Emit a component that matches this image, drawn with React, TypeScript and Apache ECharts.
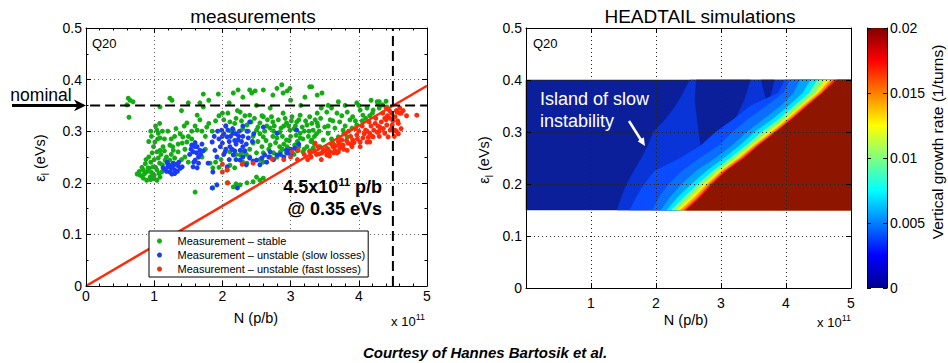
import React, { useEffect, useRef } from 'react';
import * as echarts from 'echarts';

const FONT = '"Liberation Sans", Arial, Helvetica, sans-serif';

// ---------- measurements (N in 1e11 p/b, emittance in eVs) ----------
const stableData: number[][] = [
  [0.62, 0.364], [0.645, 0.36], [0.69, 0.357], [0.6, 0.351], [0.63, 0.327],
  [1.23, 0.364], [1.085, 0.347], [1.72, 0.372], [1.5, 0.355], [1.67, 0.355], [1.72, 0.347], [1.94, 0.372], [1.63, 0.331],
  [1.04, 0.302], [1.06, 0.296], [1.085, 0.287], [1.01, 0.279], [0.92, 0.28],
  [1.48, 0.316], [1.67, 0.322], [1.77, 0.308], [1.63, 0.302],
  [1.42, 0.289], [1.41, 0.277], [1.48, 0.279],
  [1.13, 0.27], [1.23, 0.273], [1.085, 0.263], [1.28, 0.263],
  [1.04, 0.26], [0.97, 0.258], [1.06, 0.248], [1.16, 0.244],
  [0.91, 0.229], [0.98, 0.231], [1.04, 0.225], [0.98, 0.215], [1.085, 0.211], [0.94, 0.211], [0.84, 0.225], [0.79, 0.215],
  [0.75, 0.217], [0.84, 0.209], [0.89, 0.205], [1.04, 0.205], [1.11, 0.221], [1.0, 0.208], [0.82, 0.213], [0.95, 0.206],
  [1.6, 0.182], [1.82, 0.238], [1.86, 0.229], [1.23, 0.244],
  [1.15, 0.285], [1.2, 0.3], [1.3, 0.29], [1.35, 0.275], [1.25, 0.255], [1.35, 0.26], [1.45, 0.265], [1.5, 0.29],
  [1.55, 0.3], [1.12, 0.235], [1.18, 0.25], [0.95, 0.24], [0.88, 0.245],
  [2.87, 0.39], [2.8, 0.383], [2.99, 0.383], [2.6, 0.38], [2.16, 0.374], [2.43, 0.374], [2.74, 0.37], [2.89, 0.374],
  [3.28, 0.386], [3.39, 0.37], [3.21, 0.366], [2.3, 0.366], [1.26, 0.36], [2.23, 0.38], [2.48, 0.378], [3.31, 0.386],
  [2.0, 0.335], [2.26, 0.337], [2.4, 0.331], [2.6, 0.328], [2.89, 0.335], [3.02, 0.328], [3.14, 0.331], [3.28, 0.328], [3.39, 0.335],
  [2.11, 0.318], [2.36, 0.312], [2.55, 0.316], [2.74, 0.318], [2.94, 0.316], [3.09, 0.318], [3.24, 0.312], [3.39, 0.316],
  [2.16, 0.302], [2.5, 0.302], [2.7, 0.306], [2.84, 0.298], [2.99, 0.302], [3.14, 0.296], [3.33, 0.302],
  [2.6, 0.289], [2.8, 0.287], [2.94, 0.283], [3.14, 0.287], [3.31, 0.283],
  [2.45, 0.277], [2.7, 0.273], [2.84, 0.27], [3.06, 0.273], [3.24, 0.27],
  [2.11, 0.26], [2.26, 0.254], [2.5, 0.258], [2.8, 0.25], [2.94, 0.258], [3.18, 0.26], [3.33, 0.267],
  [2.11, 0.234], [2.36, 0.238], [2.6, 0.24], [2.07, 0.225], [2.18, 0.229],
  [2.16, 0.192], [2.26, 0.196], [2.36, 0.2], [2.45, 0.202], [2.55, 0.205], [2.5, 0.211], [2.07, 0.2], [1.86, 0.19],
  [2.2, 0.198], [2.6, 0.209],
  [1.9, 0.32], [2.05, 0.31], [2.2, 0.325], [2.3, 0.305], [2.45, 0.29], [2.55, 0.295], [2.65, 0.31], [2.75, 0.3],
  [2.9, 0.31], [3.0, 0.29], [3.05, 0.305], [3.2, 0.3], [3.35, 0.29], [3.4, 0.31], [2.95, 0.27], [3.1, 0.28],
  [3.2, 0.265], [3.35, 0.275], [2.85, 0.26], [3.05, 0.255], [3.1, 0.262], [3.28, 0.262], [2.7, 0.25], [2.55, 0.245],
  [2.4, 0.25], [2.3, 0.24],
  [3.46, 0.374], [3.7, 0.357], [3.97, 0.355], [4.12, 0.345], [4.28, 0.355], [4.35, 0.351], [4.41, 0.347],
  [3.53, 0.337], [3.68, 0.335], [3.83, 0.337], [4.02, 0.341], [4.21, 0.341], [3.91, 0.328], [4.06, 0.331],
  [3.58, 0.322], [3.72, 0.318], [3.87, 0.322], [3.97, 0.312], [3.5, 0.308], [3.65, 0.306], [3.77, 0.302], [3.9, 0.306],
  [3.55, 0.296], [3.7, 0.289], [3.83, 0.289], [3.48, 0.283], [3.62, 0.277], [3.53, 0.267], [3.43, 0.27], [3.6, 0.285],
  [4.05, 0.32], [4.16, 0.33], [4.3, 0.357], [4.27, 0.357],
  [1.95, 0.33], [2.02, 0.322], [2.08, 0.335], [2.12, 0.3], [2.18, 0.315], [2.22, 0.34], [2.28, 0.32], [2.33, 0.33],
  [2.38, 0.3], [2.42, 0.318], [2.47, 0.325], [2.52, 0.308], [2.58, 0.33], [2.62, 0.3], [2.66, 0.322], [2.72, 0.328],
  [2.76, 0.31], [2.82, 0.322], [2.86, 0.306], [2.92, 0.325], [2.97, 0.31], [3.01, 0.32], [3.07, 0.31], [3.12, 0.322],
  [3.17, 0.308], [3.22, 0.32], [3.27, 0.3], [3.31, 0.315], [3.36, 0.322], [3.42, 0.3], [3.44, 0.325], [2.64, 0.282],
  [2.74, 0.29], [2.88, 0.29], [2.98, 0.282], [3.08, 0.292], [3.18, 0.285], [3.26, 0.29], [3.38, 0.295], [2.52, 0.28],
  [2.58, 0.27], [2.78, 0.278], [2.9, 0.275], [3.0, 0.262], [3.12, 0.27], [3.3, 0.28], [2.68, 0.265], [2.6, 0.258],
  [2.75, 0.258], [2.88, 0.265], [2.4, 0.265], [2.35, 0.255], [2.3, 0.26], [2.2, 0.255],
  [0.78, 0.222], [0.82, 0.23], [0.86, 0.218], [0.9, 0.222], [0.93, 0.228], [0.96, 0.22], [1.0, 0.215], [1.02, 0.23],
  [1.07, 0.218], [0.87, 0.237], [0.92, 0.25], [1.0, 0.245], [1.08, 0.238], [1.1, 0.255], [1.15, 0.262], [0.99, 0.27],
  [1.05, 0.285], [0.96, 0.29], [1.12, 0.3], [1.02, 0.31], [0.95, 0.3], [1.08, 0.315], [1.25, 0.285], [1.32, 0.305],
  [1.38, 0.295], [1.44, 0.31], [1.55, 0.285], [1.6, 0.31], [1.7, 0.3], [1.75, 0.29], [1.8, 0.315], [1.85, 0.3],
  [1.45, 0.25], [1.4, 0.245], [1.5, 0.24], [1.3, 0.248], [1.27, 0.27], [1.7, 0.25], [1.75, 0.265], [1.9, 0.24],
  [1.95, 0.23], [1.98, 0.245],
  [1.4, 0.34], [1.8, 0.36], [2.1, 0.355], [2.5, 0.35], [2.7, 0.345], [3.0, 0.36], [3.15, 0.35], [3.55, 0.35],
  [3.6, 0.345], [3.8, 0.35], [4.0, 0.35], [4.18, 0.36], [2.4, 0.38], [2.95, 0.378], [4.4, 0.358], [4.2, 0.335],
  [4.1, 0.325], [3.95, 0.32], [3.8, 0.31], [4.3, 0.345], [3.75, 0.33], [3.62, 0.32], [3.45, 0.345], [3.55, 0.31],
  [3.78, 0.295],
];

const slowData: number[][] = [
  [1.13, 0.229], [1.2, 0.231], [1.28, 0.238], [1.3, 0.225], [1.35, 0.233], [1.23, 0.221], [1.41, 0.231], [1.19, 0.24], [1.26, 0.217],
  [1.16, 0.226], [1.22, 0.234], [1.32, 0.236], [1.38, 0.228], [1.25, 0.228], [1.3, 0.218],
  [1.55, 0.273], [1.63, 0.27], [1.57, 0.26], [1.67, 0.263], [1.6, 0.244], [1.57, 0.231], [1.63, 0.229],
  [1.52, 0.255], [1.65, 0.25], [1.7, 0.275],
  [1.85, 0.279], [1.89, 0.263], [1.92, 0.25], [1.79, 0.238], [1.86, 0.221], [1.85, 0.19], [1.92, 0.196],
  [1.99, 0.302], [2.07, 0.289], [2.16, 0.296], [2.0, 0.277], [2.11, 0.27], [2.23, 0.283], [2.26, 0.263], [2.04, 0.26],
  [2.16, 0.254], [2.38, 0.287], [2.4, 0.318], [2.6, 0.308],
  [2.0, 0.29], [2.1, 0.28], [2.2, 0.275], [2.3, 0.27], [2.15, 0.305], [2.25, 0.3], [2.05, 0.265], [1.95, 0.285], [2.3, 0.29], [2.35, 0.275],
  [2.4, 0.248], [2.5, 0.244], [2.62, 0.254], [2.7, 0.26], [2.8, 0.254], [2.94, 0.263], [3.06, 0.267], [2.07, 0.231],
  [2.26, 0.244], [3.09, 0.302], [2.8, 0.296], [2.22, 0.19],
  [2.55, 0.235], [2.65, 0.24], [2.9, 0.25], [3.0, 0.255], [2.35, 0.235],
  [1.97, 0.27], [2.02, 0.295], [2.08, 0.302], [2.12, 0.29], [2.18, 0.282], [2.2, 0.295], [2.24, 0.29], [2.28, 0.28],
  [2.14, 0.265], [2.02, 0.255], [2.1, 0.245], [2.18, 0.262], [2.33, 0.262], [2.36, 0.3], [2.44, 0.28], [2.46, 0.295],
  [1.93, 0.3], [1.88, 0.29], [2.05, 0.31], [2.3, 0.31],
  [1.54, 0.265], [1.6, 0.27], [1.62, 0.258], [1.68, 0.255], [1.58, 0.24], [1.65, 0.238], [1.6, 0.278], [1.72, 0.262],
  [2.45, 0.242], [2.58, 0.248], [2.68, 0.25], [2.75, 0.245], [2.85, 0.255], [2.95, 0.258], [3.0, 0.265], [3.12, 0.275],
  [2.3, 0.25], [2.2, 0.245],
  [1.18, 0.222], [1.27, 0.232], [1.34, 0.222], [1.2, 0.236], [1.36, 0.24],
];

const fastData: number[][] = [
  [2.0, 0.236], [2.07, 0.225], [2.29, 0.236], [2.45, 0.238], [2.73, 0.246], [2.08, 0.2], [2.0, 0.221],
  [3.02, 0.26], [3.11, 0.263], [3.36, 0.277], [3.28, 0.26],
  [4.85, 0.331], [4.56, 0.337], [4.6, 0.335], [4.53, 0.328], [4.46, 0.325], [4.41, 0.312], [4.49, 0.312], [4.53, 0.302],
  [4.46, 0.302], [4.31, 0.308], [4.27, 0.298], [4.16, 0.296], [4.38, 0.296], [4.43, 0.289], [4.21, 0.289], [4.06, 0.287],
  [3.97, 0.293], [3.91, 0.283], [4.02, 0.279], [4.12, 0.279], [3.84, 0.277], [3.77, 0.273], [3.9, 0.27], [3.72, 0.267],
  [3.65, 0.263], [3.83, 0.263], [3.58, 0.26], [3.68, 0.258], [3.53, 0.254], [3.46, 0.258], [3.48, 0.263], [3.62, 0.27],
  [4.02, 0.27], [3.75, 0.283], [4.16, 0.279],
  [3.2, 0.255], [3.3, 0.25], [3.35, 0.262], [3.25, 0.245], [3.4, 0.27], [3.1, 0.245], [3.0, 0.25], [2.9, 0.245],
  [3.45, 0.245], [3.55, 0.265], [3.6, 0.275], [3.7, 0.28], [3.8, 0.295], [3.85, 0.3], [3.95, 0.305], [4.05, 0.31],
  [4.15, 0.318], [4.25, 0.325], [4.35, 0.335], [4.4, 0.345], [4.45, 0.34], [4.5, 0.32], [4.52, 0.29], [4.55, 0.3],
  [4.58, 0.315], [4.62, 0.335], [4.65, 0.34], [4.48, 0.305], [4.3, 0.3], [4.2, 0.29],
  [3.42, 0.256], [3.5, 0.262], [3.57, 0.252], [3.63, 0.258], [3.66, 0.272], [3.72, 0.275], [3.78, 0.265], [3.82, 0.282],
  [3.88, 0.29], [3.93, 0.278], [3.98, 0.285], [4.0, 0.3], [4.08, 0.295], [4.1, 0.302], [4.14, 0.288], [4.18, 0.31],
  [4.22, 0.302], [4.24, 0.315], [4.28, 0.31], [4.33, 0.318], [4.36, 0.305], [4.4, 0.322], [4.42, 0.33], [4.48, 0.335],
  [4.38, 0.325], [4.3, 0.29], [4.12, 0.3], [3.88, 0.275], [3.7, 0.26], [3.55, 0.256], [3.38, 0.255], [4.58, 0.295],
  [4.62, 0.305], [4.7, 0.33], [4.6, 0.345], [4.55, 0.34], [4.57, 0.32],
];

const thresholdLine: number[][] = [[0, 0], [5, 0.388]];
const nominalLine: number[][] = [[0.06, 0.35], [5, 0.35]];
const intensityLine: number[][] = [[4.5, 0], [4.5, 0.5]];

const seriesNames = [
  'Measurement \u2013 stable',
  'Measurement \u2013 unstable (slow losses)',
  'Measurement \u2013 unstable (fast losses)',
];

// ---------- HEADTAIL simulation contour bands ----------
const bandEps = [0.15, 0.175, 0.2, 0.225, 0.25, 0.275, 0.3, 0.325, 0.35, 0.375, 0.4];
const edge0 = [0, 0, 0, 0, 0, 0, 0, 0, 0, 0, 0];
const edge1 = [1.40, 1.47, 1.55, 1.66, 1.78, 1.88, 1.96, 2.15, 2.30, 2.42, 2.52];
const edge2 = [1.60, 1.70, 1.82, 1.98, 2.38, 2.70, 2.92, 3.20, 3.45, 3.88, 3.98];
const edge3 = [1.95, 2.05, 2.20, 2.40, 2.68, 2.98, 3.18, 3.42, 3.70, 3.96, 4.06];
const edge5 = [2.08, 2.22, 2.40, 2.62, 2.92, 3.18, 3.40, 3.66, 3.92, 4.12, 4.22];
const edge7 = [2.17, 2.34, 2.55, 2.78, 3.05, 3.30, 3.52, 3.80, 4.04, 4.26, 4.38];
const edge9 = [2.24, 2.44, 2.65, 2.88, 3.15, 3.40, 3.63, 3.90, 4.13, 4.36, 4.49];
const edge12 = [2.32, 2.53, 2.73, 2.96, 3.23, 3.47, 3.72, 3.98, 4.21, 4.45, 4.60];
const edge14 = [2.38, 2.60, 2.79, 3.01, 3.28, 3.52, 3.78, 4.03, 4.26, 4.50, 4.68];
const edge16 = [2.43, 2.65, 2.83, 3.05, 3.32, 3.56, 3.82, 4.07, 4.30, 4.54, 4.73];
const edge18 = [2.46, 2.68, 2.86, 3.07, 3.35, 3.58, 3.84, 4.09, 4.32, 4.56, 4.77];
const edge19 = [2.48, 2.70, 2.88, 3.09, 3.37, 3.60, 3.86, 4.11, 4.34, 4.57, 4.80];
const pocketA = [[2.62, 0.4], [2.6, 0.36], [2.66, 0.3], [2.7, 0.262], [2.9, 0.285], [3.2, 0.322], [3.35, 0.36], [3.45, 0.4]];
const pocketB = [[3.62, 0.4], [3.72, 0.35], [3.82, 0.4]];

const bandColors = {
  c0: '#0b1f9a', c1: '#0934d8', c2: '#0a4cff', c3: '#0a6eff', c5: '#00a4ff', c7: '#00eaff',
  c9: '#7dff82', c12: '#ffee00', c14: '#ff9000', c16: '#ff3000', c18: '#c80a00', c19: '#8e1600',
};

type Layer = { edge?: number[]; poly?: number[][]; color: string };
const layers: Layer[] = [
  { edge: edge0, color: bandColors.c0 },
  { edge: edge1, color: bandColors.c1 },
  { poly: pocketA, color: bandColors.c0 },
  { poly: pocketB, color: bandColors.c0 },
  { edge: edge2, color: bandColors.c2 },
  { edge: edge3, color: bandColors.c3 },
  { edge: edge5, color: bandColors.c5 },
  { edge: edge7, color: bandColors.c7 },
  { edge: edge9, color: bandColors.c9 },
  { edge: edge12, color: bandColors.c12 },
  { edge: edge14, color: bandColors.c14 },
  { edge: edge16, color: bandColors.c16 },
  { edge: edge18, color: bandColors.c18 },
  { edge: edge19, color: bandColors.c19 },
];

const colorbarRange = [0, 0.02];
const jetStops = [
  { offset: 0, color: '#00008f' },
  { offset: 0.125, color: '#0000ff' },
  { offset: 0.375, color: '#00ffff' },
  { offset: 0.625, color: '#ffff00' },
  { offset: 0.875, color: '#ff0000' },
  { offset: 1, color: '#800000' },
];

const tickLabel = { fontFamily: FONT, fontSize: 14, color: '#000' };
const epsRich = {
  e: { fontFamily: FONT, fontSize: 14.5, fill: '#000', color: '#000', lineHeight: 20, verticalAlign: 'middle' },
  s: { fontFamily: FONT, fontSize: 10, fill: '#000', color: '#000', lineHeight: 10, verticalAlign: 'bottom' },
};
const dotted = { color: '#666', width: 1, type: [1, 3] as number[] };
const black = { color: '#000', width: 1 };

function boxAxisX(gridIndex: number, position: 'top' | 'bottom', extra: any = {}) {
  return {
    type: 'value', gridIndex, position, min: 0, max: 5, interval: 1, z: 5,
    axisLine: { show: true, onZero: false, lineStyle: black },
    axisTick: { show: true, inside: true, length: 5, lineStyle: black },
    axisLabel: { show: false },
    splitLine: { show: false },
    ...extra,
  };
}
function boxAxisY(gridIndex: number, position: 'left' | 'right', extra: any = {}) {
  return {
    type: 'value', gridIndex, position, min: 0, max: 0.5, interval: 0.1, z: 5,
    axisLine: { show: true, onZero: false, lineStyle: black },
    axisTick: { show: true, inside: true, length: 5, lineStyle: black },
    axisLabel: { show: false },
    splitLine: { show: false },
    ...extra,
  };
}

const superRich = (size: number, supSize: number, bold: boolean) => ({
  a: { fontFamily: FONT, fontSize: size, fontWeight: bold ? 'bold' : 'normal', fill: '#000', color: '#000', lineHeight: size + 2, verticalAlign: 'bottom' },
  b: { fontFamily: FONT, fontSize: supSize, fontWeight: bold ? 'bold' : 'normal', fill: '#000', color: '#000', lineHeight: supSize, verticalAlign: 'top' },
});

const centered = { textAlign: 'center', textVerticalAlign: 'middle', align: 'center', verticalAlign: 'middle' };

export default function App() {
  const ref = useRef<HTMLDivElement>(null);
  useEffect(() => {
    document.body.style.margin = '0';
    if (!ref.current) return;
    const chart = echarts.init(ref.current, undefined, { renderer: 'svg' });

    const contourRender = (params: any, api: any) => {
      const layer = layers[params.dataIndex];
      let pts: number[][] = [];
      if (layer.edge) {
        for (let i = 0; i < bandEps.length; i++) pts.push(api.coord([layer.edge[i], bandEps[i]]));
        pts.push(api.coord([5, bandEps[bandEps.length - 1]]));
        pts.push(api.coord([5, bandEps[0]]));
      } else if (layer.poly) {
        pts = layer.poly.map((p) => api.coord(p));
      }
      return { type: 'polygon', shape: { points: pts }, style: { fill: layer.color, stroke: layer.color, lineWidth: 0.5 } };
    };

    const colorbarRender = (params: any, api: any) => {
      const p0 = api.coord([0, colorbarRange[0]]);
      const p1 = api.coord([1, colorbarRange[1]]);
      return {
        type: 'rect',
        shape: { x: p0[0], y: p1[1], width: p1[0] - p0[0], height: p0[1] - p1[1] },
        style: { fill: new echarts.graphic.LinearGradient(0, 1, 0, 0, jetStops) },
      };
    };

    const option: any = {
      animation: false,
      backgroundColor: '#fff',
      textStyle: { fontFamily: FONT },
      title: [
        { text: 'measurements', left: 248, top: 2, textAlign: 'center', textStyle: { fontFamily: FONT, fontSize: 19, fontWeight: 'normal', color: '#000' } },
        { text: 'HEADTAIL simulations', left: 695, top: 2, textAlign: 'center', textStyle: { fontFamily: FONT, fontSize: 19, fontWeight: 'normal', color: '#000' } },
      ],
      grid: [
        { left: 86, top: 28, width: 341, height: 258, outerBoundsMode: 'none' },
        { left: 526, top: 28, width: 325, height: 260, outerBoundsMode: 'none' },
        { left: 867, top: 28, width: 20, height: 260, outerBoundsMode: 'none' },
      ],
      legend: {
        data: seriesNames,
        orient: 'vertical',
        left: 149,
        top: 231,
        padding: [3, 3, 1, 8],
        itemGap: 0,
        itemWidth: 26,
        itemHeight: 5,
        icon: 'circle',
        backgroundColor: '#fff',
        borderColor: '#000',
        borderWidth: 1,
        borderRadius: 0,
        textStyle: { fontFamily: FONT, fontSize: 11, color: '#000', lineHeight: 14 },
        z: 20,
      },
      xAxis: [
        boxAxisX(0, 'bottom', {
          axisLabel: { show: true, margin: 3, ...tickLabel },
          minorTick: { show: true, splitNumber: 5, length: 2.5, lineStyle: black },
          splitLine: { show: true, lineStyle: dotted },
        }),
        boxAxisX(0, 'top', { minorTick: { show: true, splitNumber: 5, length: 2.5, lineStyle: black } }),
        boxAxisX(1, 'bottom', {
          axisLabel: { show: true, margin: 8, ...tickLabel, formatter: (v: number) => (v === 0 ? '' : String(v)) },
          splitLine: { show: true, lineStyle: { ...dotted, color: '#222' } },
        }),
        boxAxisX(1, 'top'),
        { type: 'value', gridIndex: 2, min: 0, max: 1, show: false },
      ],
      yAxis: [
        boxAxisY(0, 'left', {
          axisLabel: { show: true, margin: 4, ...tickLabel },
          minorTick: { show: true, splitNumber: 2, length: 2.5, lineStyle: black },
          splitLine: { show: true, lineStyle: dotted },
        }),
        boxAxisY(0, 'right', { minorTick: { show: true, splitNumber: 2, length: 2.5, lineStyle: black } }),
        boxAxisY(1, 'left', {
          axisLabel: { show: true, margin: 4, ...tickLabel },
          splitLine: { show: true, lineStyle: { ...dotted, color: '#222' } },
        }),
        boxAxisY(1, 'right'),
        {
          type: 'value', gridIndex: 2, position: 'right', min: colorbarRange[0], max: colorbarRange[1], interval: 0.005, z: 5,
          axisLine: { show: true, onZero: false, lineStyle: black },
          axisTick: { show: true, inside: true, length: 4, lineStyle: black },
          axisLabel: { show: true, margin: 3, ...tickLabel },
          splitLine: { show: false },
        },
        {
          type: 'value', gridIndex: 2, position: 'left', min: colorbarRange[0], max: colorbarRange[1], interval: 0.005, z: 5,
          axisLine: { show: true, onZero: false, lineStyle: black },
          axisTick: { show: true, inside: true, length: 4, lineStyle: black },
          axisLabel: { show: false },
          splitLine: { show: false },
        },
      ],
      series: [
        {
          name: seriesNames[0], type: 'scatter', xAxisIndex: 0, yAxisIndex: 0, data: stableData,
          symbol: 'circle', symbolSize: 5, itemStyle: { color: '#12ad12', opacity: 1 }, z: 3,
        },
        {
          name: seriesNames[1], type: 'scatter', xAxisIndex: 0, yAxisIndex: 0, data: slowData,
          symbol: 'circle', symbolSize: 5, itemStyle: { color: '#1a3cf5', opacity: 1 }, z: 3,
        },
        {
          name: seriesNames[2], type: 'scatter', xAxisIndex: 0, yAxisIndex: 0, data: fastData,
          symbol: 'circle', symbolSize: 5, itemStyle: { color: '#ff2a0a', opacity: 1 }, z: 3,
        },
        {
          type: 'line', xAxisIndex: 0, yAxisIndex: 0, data: thresholdLine, symbol: 'none', silent: true,
          lineStyle: { color: '#ff2a0a', width: 2.5 }, z: 4,
        },
        {
          type: 'line', xAxisIndex: 0, yAxisIndex: 0, data: nominalLine, symbol: 'none', silent: true,
          lineStyle: { color: '#000', width: 2, type: [10, 5] }, z: 4,
        },
        {
          type: 'line', xAxisIndex: 0, yAxisIndex: 0, data: intensityLine, symbol: 'none', silent: true,
          lineStyle: { color: '#000', width: 2, type: [10, 5] }, z: 4,
        },
        {
          type: 'custom', xAxisIndex: 2, yAxisIndex: 2, renderItem: contourRender, silent: true, z: 1,
          data: layers.map((l, i) => [l.edge ? l.edge[0] : l.poly![0][0], l.edge ? bandEps[0] : l.poly![0][1], i]),
          encode: { x: 0, y: 1 },
        },
        {
          type: 'custom', xAxisIndex: 4, yAxisIndex: 4, renderItem: colorbarRender, silent: true, z: 1,
          data: [[0, colorbarRange[1]]],
        },
      ],
      graphic: [
        { type: 'text', x: 41, y: 95, z: 100, style: { text: 'nominal', font: `17.5px ${FONT}`, fill: '#000', ...centered } },
        { type: 'line', z: 100, shape: { x1: 12, y1: 105.4, x2: 78, y2: 105.4 }, style: { stroke: '#000', lineWidth: 3 } },
        { type: 'polygon', z: 100, shape: { points: [[86, 105.4], [74, 99.6], [77.5, 105.4], [74, 111.2]] }, style: { fill: '#000' } },
        { type: 'text', x: 92, y: 43, z: 100, style: { text: 'Q20', font: `13px ${FONT}`, fill: '#000', textVerticalAlign: 'middle', verticalAlign: 'middle' } },
        { type: 'text', x: 533, y: 43, z: 100, style: { text: 'Q20', font: `13px ${FONT}`, fill: '#000', textVerticalAlign: 'middle', verticalAlign: 'middle' } },
        // axis titles
        { type: 'text', x: 256, y: 318, z: 100, style: { text: 'N (p/b)', font: `14.5px ${FONT}`, fill: '#000', ...centered } },
        { type: 'text', x: 686, y: 320, z: 100, style: { text: 'N (p/b)', font: `14.5px ${FONT}`, fill: '#000', ...centered } },
        { type: 'text', x: 40, y: 158, rotation: Math.PI / 2, z: 100, style: { text: '{e|\u03b5}{s|l}{e| (eVs)}', rich: epsRich, ...centered } },
        { type: 'text', x: 484, y: 160, rotation: Math.PI / 2, z: 100, style: { text: '{e|\u03b5}{s|l}{e| (eVs)}', rich: epsRich, ...centered } },
        {
          type: 'text', x: 382, y: 186, z: 100,
          style: { text: '{a|4.5x10}{b|11}{a| p/b}', rich: superRich(18, 11, true), textAlign: 'right', textVerticalAlign: 'middle', align: 'right', verticalAlign: 'middle' },
        },
        { type: 'text', x: 382, y: 209, z: 100, style: { text: '@ 0.35 eVs', font: `bold 18px ${FONT}`, fill: '#000', textAlign: 'right', textVerticalAlign: 'middle', align: 'right', verticalAlign: 'middle' } },
        {
          type: 'text', x: 425, y: 320, z: 100,
          style: { text: '{a|x 10}{b|11}', rich: superRich(13, 9, false), textAlign: 'right', textVerticalAlign: 'middle', align: 'right', verticalAlign: 'middle' },
        },
        {
          type: 'text', x: 851, y: 321, z: 100,
          style: { text: '{a|x 10}{b|11}', rich: superRich(13, 9, false), textAlign: 'right', textVerticalAlign: 'middle', align: 'right', verticalAlign: 'middle' },
        },
        { type: 'text', x: 540, y: 99, z: 100, style: { text: 'Island of slow', font: `18px ${FONT}`, fill: '#fff', textVerticalAlign: 'middle', verticalAlign: 'middle' } },
        { type: 'text', x: 540, y: 121, z: 100, style: { text: 'instability', font: `18px ${FONT}`, fill: '#fff', textVerticalAlign: 'middle', verticalAlign: 'middle' } },
        { type: 'line', z: 100, shape: { x1: 629, y1: 121, x2: 641, y2: 140 }, style: { stroke: '#fff', lineWidth: 2.5 } },
        { type: 'polygon', z: 100, shape: { points: [[645, 146], [637.6, 141.2], [643.8, 137.2]] }, style: { fill: '#fff' } },
        { type: 'text', x: 937, y: 142, rotation: Math.PI / 2, z: 100, style: { text: 'Vertical growth rate (1/turns)', font: `15.5px ${FONT}`, fill: '#000', ...centered } },
        { type: 'text', x: 485, y: 352, z: 100, style: { text: 'Courtesy of Hannes Bartosik et al.', font: `italic bold 15px ${FONT}`, fill: '#000', ...centered } },
      ],
    };
    chart.setOption(option);
    return () => chart.dispose();
  }, []);
  return <div ref={ref} style={{ width: 948, height: 363 }} />;
}
